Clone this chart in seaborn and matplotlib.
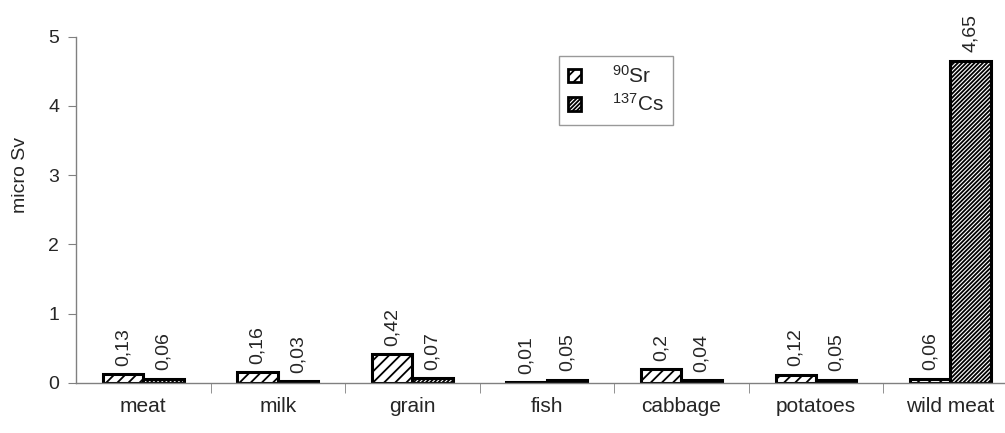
import matplotlib.pyplot as plt
import matplotlib as mpl
import matplotlib.patches as mpatches
import pandas as pd
import seaborn as sns
from matplotlib.ticker import FixedLocator

sns.set_style('white')
mpl.rcParams['font.family'] = ['Liberation Sans', 'DejaVu Sans']
mpl.rcParams['mathtext.fontset'] = 'custom'
mpl.rcParams['mathtext.rm'] = 'Liberation Sans'
mpl.rcParams['hatch.linewidth'] = 1.3

categories = ['meat', 'milk', 'grain', 'fish', 'cabbage', 'potatoes', 'wild meat']
sr90 = [0.13, 0.16, 0.42, 0.01, 0.2, 0.12, 0.06]
cs137 = [0.06, 0.03, 0.07, 0.05, 0.04, 0.05, 4.65]
isotopes = [r'$\mathregular{^{90}}$Sr', r'$\mathregular{^{137}}$Cs']

df = pd.DataFrame({
    'food': categories * 2,
    'isotope': [isotopes[0]] * len(sr90) + [isotopes[1]] * len(cs137),
    'dose': sr90 + cs137,
})

fig = plt.figure(figsize=(10.05, 4.33), dpi=100)
# axes run a little past the right edge, as in the original
ax = fig.add_axes([0.0756, 0.1155, 0.937, 0.8002])

sns.barplot(data=df, x='food', y='dose', hue='isotope', order=categories,
            hue_order=isotopes, palette=['white', 'white'], width=0.6,
            edgecolor='black', linewidth=2.2, saturation=1, legend=False, ax=ax)

hatches = ['///', '////////']
for cont, h in zip(ax.containers, hatches):
    for bar in cont:
        bar.set_hatch(h)
    labels = [f'{v:g}'.replace('.', ',') for v in cont.datavalues]
    ax.bar_label(cont, labels=labels, rotation=90, padding=6, fontsize=14)

ax.set_ylim(0, 5)
ax.set_xlim(-0.5, 6.5)
ax.set_yticks([0, 1, 2, 3, 4, 5])
ax.set_xlabel('')
ax.set_ylabel('micro Sv', fontsize=14)
ax.yaxis.set_label_coords(-0.05, 0.6)
ax.tick_params(axis='y', labelsize=14, length=6, color='gray', direction='out', left=True, pad=6)
ax.tick_params(axis='x', which='major', labelsize=15, length=0, pad=10)
ax.xaxis.set_minor_locator(FixedLocator([i + 0.5 for i in range(6)]))
ax.tick_params(axis='x', which='minor', length=7, color='gray', direction='out', bottom=True)

sns.despine(ax=ax)
for s in ['left', 'bottom']:
    ax.spines[s].set_color('gray')
    ax.spines[s].set_linewidth(1)

handles = [mpatches.Patch(facecolor='white', edgecolor='black', hatch=h, linewidth=2)
           for h in hatches]
leg = fig.legend(handles, isotopes, loc='upper left', bbox_to_anchor=(0.556, 0.871),
                 borderaxespad=0, fontsize=15, frameon=True, fancybox=False,
                 edgecolor='gray', handlelength=0.6, handleheight=0.6,
                 handletextpad=1.5, labelspacing=0.3, borderpad=0.45)
leg.get_frame().set_linewidth(1)

plt.savefig('out.png', dpi=100)
